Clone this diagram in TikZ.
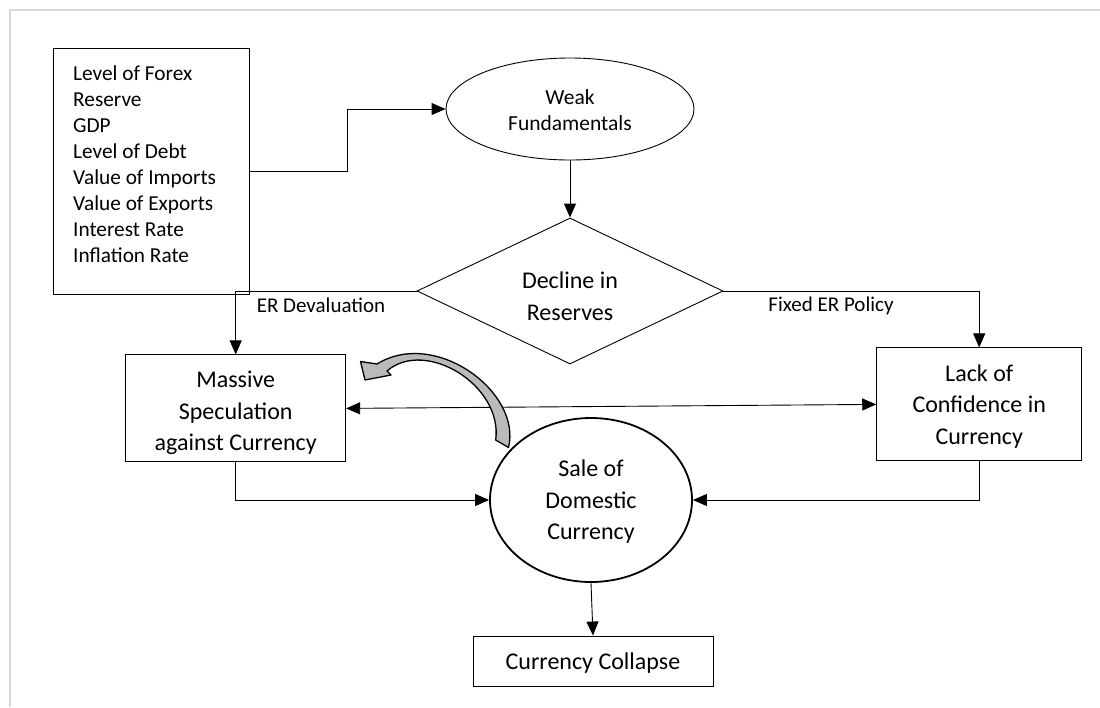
\documentclass[tikz,border=0pt]{standalone}
\usepackage{fontspec}
\setmainfont{Carlito}
\usetikzlibrary{arrows.meta,shapes.geometric}
\newcommand{\mlines}[2]{\raisebox{#1}[\height][\depth]{\begin{tabular}{@{}c@{}}#2\end{tabular}}}
\begin{document}
\begin{tikzpicture}[x=1pt,y=-1pt,
  conn/.style={line width=0.9pt, -{Triangle[length=14pt,width=12pt]}},
  boxn/.style={draw, line width=0.9pt, inner sep=0pt},
  big/.style={font=\fontsize{24}{31.5}\selectfont},
  lab/.style={font=\fontsize{21}{24}\selectfont, inner sep=0pt}]
\useasboundingbox (0,0) rectangle (1100,707);
\draw[black!15, line width=1.5pt] (10,707) -- (10,10) -- (1100,10);
% input box
\node[boxn, minimum width=196pt, minimum height=246pt] (ind) at (151,171) {};
\node[anchor=north west, inner sep=0pt, align=left, font=\fontsize{21.3}{26}\selectfont] (indtxt) at (73,65.5)
  {Level of Forex\\Reserve\\GDP\\Level of Debt\\Value of Imports\\Value of Exports\\Interest Rate\\Inflation Rate};
% nodes
\node[draw, ellipse, line width=0.9pt, inner sep=0pt, minimum width=248pt, minimum height=102pt,
  font=\fontsize{21.5}{26}\selectfont] (weak) at (570,109) {\mlines{-3pt}{Weak\\Fundamentals}};
\node[draw, diamond, aspect=2.1, line width=0.9pt, inner sep=0pt, minimum width=306pt,
  minimum height=146pt, big] (dec) at (570,291) {\mlines{-7pt}{Decline in\\Reserves}};
\node[boxn, big, minimum width=220pt, minimum height=107pt] (mass) at (235.7,408.4)
  {\mlines{-4.5pt}{Massive\\Speculation\\against Currency}};
\node[boxn, big, minimum width=205pt, minimum height=113pt] (lack) at (979.2,404.4)
  {\mlines{-2pt}{Lack of\\Confidence in\\Currency}};
\node[draw, ellipse, line width=1.8pt, inner sep=0pt, minimum width=202pt, minimum height=164pt,
  big] (sale) at (591,500) {\mlines{-2pt}{Sale of\\Domestic\\Currency}};
\node[boxn, big, minimum width=240pt, minimum height=50pt] (coll) at (593,661)
  {\mlines{-2.5pt}{Currency Collapse}};
% labels
\node[lab] (erd) at (321,305) {ER Devaluation};
\node[lab] (fix) at (831,305.5) {Fixed ER Policy};
% connectors
\coordinate (k1) at (347.7,171);
\draw[conn] (ind.east) -- (k1) |- (weak.west);
\draw[conn] (weak.south) -- (dec.north);
\draw[conn] (dec.west) -| (mass.north);
\draw[conn] (dec.east) -| (lack.north);
\draw[line width=0.9pt, {Triangle[length=14pt,width=12pt]}-{Triangle[length=14pt,width=12pt]}] (mass.east) -- (lack.west);
\draw[conn] (mass.south) |- (sale.west);
\draw[conn] (lack.south) |- (sale.east);
\draw[conn] (sale.south) -- (coll.north);
% curved block arrow
\filldraw[fill=black!27, line width=1.3pt, line join=round]
  (495.7,440) -- (508.5,447.5) .. controls (522,392) and (435,328) .. (377,364)
  -- (360.5,361.5) -- (365,380) -- (391,375) -- (387,371)
  .. controls (425,338) and (503,385) .. (495.7,440) -- cycle;
\end{tikzpicture}
\end{document}
